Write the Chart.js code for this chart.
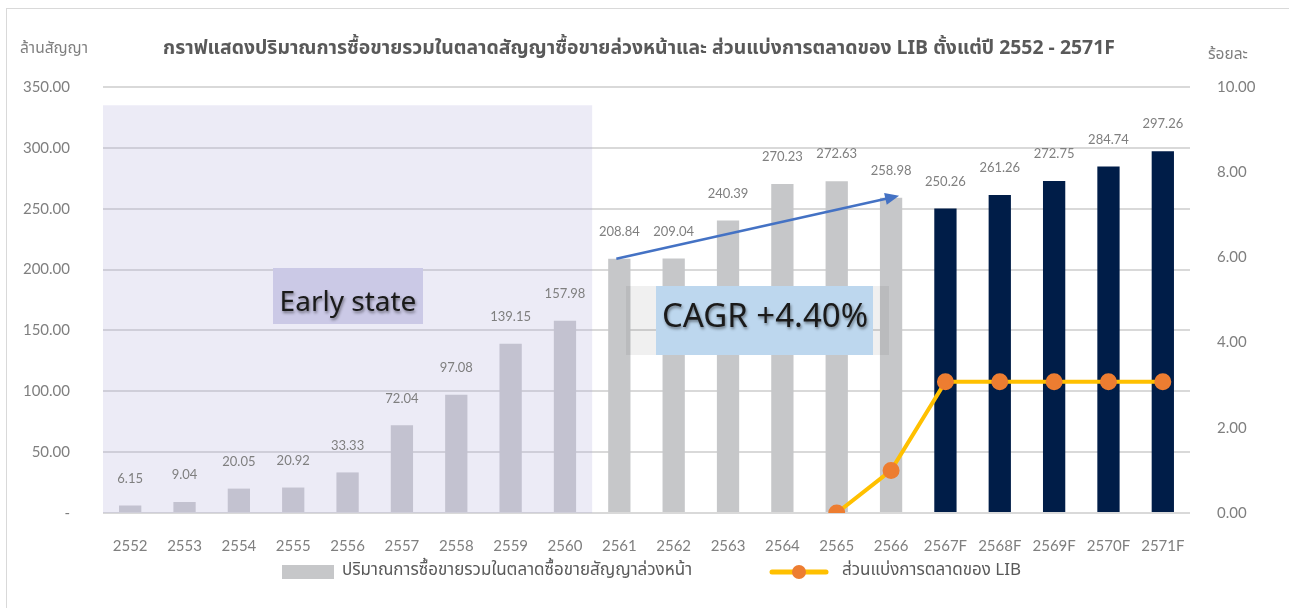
<!DOCTYPE html>
<html>
<head>
<meta charset="utf-8">
<script src="https://cdn.jsdelivr.net/npm/chart.js@4.4.1/dist/chart.umd.min.js"></script>
<style>
  html, body { margin: 0; padding: 0; background: #fff; }
  #wrap { position: relative; width: 1289px; height: 608px; }
  #frame { position: absolute; left: 6px; top: 8px; width: 1300px; height: 620px; border: 1px solid #d9d9d9; box-sizing: border-box; pointer-events: none; }
</style>
</head>
<body>
<div id="wrap">
  <canvas id="chart" width="1289" height="608"></canvas>
  <div id="frame"></div>
</div>
<script>
const years = ["2552", "2553", "2554", "2555", "2556", "2557", "2558", "2559", "2560", "2561",
  "2562", "2563", "2564", "2565", "2566", "2567F", "2568F", "2569F", "2570F", "2571F"];
const volume = [6.15, 9.04, 20.05, 20.92, 33.33, 72.04, 97.08, 139.15, 157.98, 208.84,
  209.04, 240.39, 270.23, 272.63, 258.98, 250.26, 261.26, 272.75, 284.74, 297.26];
const libShare = [null, null, null, null, null, null, null, null, null, null,
  null, null, null, 0, 1.0, 3.08, 3.08, 3.08, 3.08, 3.08];
const leftTicks = [0, 50, 100, 150, 200, 250, 300, 350];
const rightTicks = [0, 2, 4, 6, 8, 10];

const titleText = "กราฟแสดงปริมาณการซื้อขายรวมในตลาดสัญญาซื้อขายล่วงหน้าและ ส่วนแบ่งการตลาดของ LIB ตั้งแต่ปี 2552 - 2571F";
const leftUnit = "ล้านสัญญา";
const rightUnit = "ร้อยละ";
const barLabel = "ปริมาณการซื้อขายรวมในตลาดซื้อขายสัญญาล่วงหน้า";
const lineLabel = "ส่วนแบ่งการตลาดของ LIB";

const thaiFont = "'Noto Sans Thai', 'Leelawadee UI', Tahoma, 'Noto Sans', sans-serif";
const numFont = "Lato, 'Noto Sans', sans-serif";

const barColors = years.map((y, i) => i < 9 ? "#c3c2d0" : (i < 15 ? "#c6c7c9" : "#001d48"));

const extras = {
  id: "extras",
  beforeDatasetsDraw(chart) {
    const { ctx, scales: { x, y } } = chart;
    const step = x.getPixelForValue(1) - x.getPixelForValue(0);
    const x0 = x.getPixelForValue(0) - step / 2;
    const x1 = x.getPixelForValue(8) + step / 2;
    const top = y.getPixelForValue(335);
    ctx.save();
    ctx.fillStyle = "rgba(180,175,220,0.25)";
    ctx.fillRect(x0, top, x1 - x0, y.bottom - top);
    ctx.restore();
  },
  afterDatasetsDraw(chart) {
    const { ctx } = chart;
    const bars = chart.getDatasetMeta(1).data;
    ctx.save();
    // value labels
    ctx.font = "13px " + numFont;
    ctx.fillStyle = "#7f7f7f";
    ctx.textAlign = "center";
    ctx.textBaseline = "middle";
    bars.forEach((b, i) => {
      ctx.fillText(volume[i].toFixed(2), b.x, b.y - 27);
    });

    // Early state box
    ctx.fillStyle = "#cbc9e6";
    ctx.fillRect(273, 268, 150, 56);
    ctx.shadowColor = "rgba(0,0,0,0.45)";
    ctx.shadowBlur = 3;
    ctx.shadowOffsetX = 1;
    ctx.shadowOffsetY = 2;
    ctx.fillStyle = "#1a1a1a";
    ctx.font = "28px 'Noto Sans', sans-serif";
    ctx.fillText("Early state", 348, 303);
    ctx.shadowColor = "transparent";

    // CAGR box
    ctx.fillStyle = "rgba(0,0,0,0.06)";
    ctx.fillRect(626, 286, 263, 69);
    ctx.fillStyle = "#bdd7ee";
    ctx.fillRect(656, 286, 217, 69);
    ctx.shadowColor = "rgba(0,0,0,0.45)";
    ctx.shadowBlur = 3;
    ctx.shadowOffsetX = 1;
    ctx.shadowOffsetY = 2;
    ctx.fillStyle = "#1a1a1a";
    ctx.font = "33px 'Noto Sans', sans-serif";
    ctx.fillText("CAGR +4.40%", 765, 318);
    ctx.shadowColor = "transparent";

    // growth arrow from 2561 to 2566
    const ax0 = bars[9].x - 3, ay0 = bars[9].y;
    const ax1 = bars[14].x + 8, ay1 = bars[14].y - 2;
    const ang = Math.atan2(ay1 - ay0, ax1 - ax0);
    ctx.strokeStyle = "#4472c4";
    ctx.fillStyle = "#4472c4";
    ctx.lineWidth = 2.5;
    ctx.beginPath();
    ctx.moveTo(ax0, ay0);
    ctx.lineTo(ax1 - 10 * Math.cos(ang), ay1 - 10 * Math.sin(ang));
    ctx.stroke();
    ctx.beginPath();
    ctx.moveTo(ax1, ay1);
    ctx.lineTo(ax1 - 14 * Math.cos(ang) + 6 * Math.sin(ang), ay1 - 14 * Math.sin(ang) - 6 * Math.cos(ang));
    ctx.lineTo(ax1 - 14 * Math.cos(ang) - 6 * Math.sin(ang), ay1 - 14 * Math.sin(ang) + 6 * Math.cos(ang));
    ctx.closePath();
    ctx.fill();
    ctx.restore();
  },
  afterDraw(chart) {
    const { ctx } = chart;
    ctx.save();
    ctx.textBaseline = "middle";
    // title
    ctx.font = "bold 19.4px " + thaiFont;
    ctx.fillStyle = "#595959";
    ctx.textAlign = "center";
    ctx.fillText(titleText, 639, 50);
    // unit labels
    ctx.font = "15.5px " + thaiFont;
    ctx.fillStyle = "#7f7f7f";
    ctx.textAlign = "left";
    ctx.fillText(leftUnit, 20, 50);
    ctx.fillText(rightUnit, 1208, 56);
    // legend
    ctx.font = "17px " + thaiFont;
    ctx.fillStyle = "#c6c7c9";
    ctx.fillRect(282, 565, 52, 14);
    ctx.fillStyle = "#595959";
    ctx.fillText(barLabel, 342, 572);
    ctx.strokeStyle = "#ffc000";
    ctx.lineWidth = 5;
    ctx.lineCap = "round";
    ctx.beginPath();
    ctx.moveTo(772, 572);
    ctx.lineTo(826, 572);
    ctx.stroke();
    ctx.fillStyle = "#ed7d31";
    ctx.beginPath();
    ctx.arc(799, 572, 7, 0, Math.PI * 2);
    ctx.fill();
    ctx.fillStyle = "#595959";
    ctx.fillText(lineLabel, 842, 572);
    ctx.restore();
  }
};

new Chart(document.getElementById("chart"), {
  data: {
    labels: years,
    datasets: [
      {
        type: "line",
        label: lineLabel,
        data: libShare,
        yAxisID: "y1",
        borderColor: "#ffc000",
        borderWidth: 4,
        pointBackgroundColor: "#ed7d31",
        pointBorderColor: "#ed7d31",
        pointRadius: 6.5,
        tension: 0,
        order: 0,
      },
      {
        type: "bar",
        label: barLabel,
        data: volume,
        yAxisID: "y",
        backgroundColor: barColors,
        barPercentage: 0.41,
        categoryPercentage: 1,
        order: 1,
      },
    ],
  },
  options: {
    responsive: false,
    animation: false,
    events: [],
    layout: { padding: { top: 87, left: 0, right: 0, bottom: 0 } },
    plugins: {
      legend: { display: false },
      tooltip: { enabled: false },
      title: { display: false },
    },
    scales: {
      x: {
        grid: { display: false, drawTicks: false },
        border: { display: false },
        ticks: { color: "#7f7f7f", font: { family: numFont, size: 15 }, padding: 24, maxRotation: 0, autoSkip: false },
        afterFit: (s) => { s.height = 95; },
      },
      y: {
        position: "left",
        min: 0,
        max: 350,
        afterBuildTicks: (s) => { s.ticks = leftTicks.map((v) => ({ value: v })); },
        grid: { color: "#d9d9d9", lineWidth: 2, drawTicks: false },
        border: { display: false },
        ticks: {
          color: "#7f7f7f",
          font: { family: numFont, size: 15 },
          padding: 33,
          callback: (v) => (v === 0 ? "-" : v.toFixed(2)),
        },
        afterFit: (s) => { s.width = 103; },
      },
      y1: {
        position: "right",
        min: 0,
        max: 10,
        afterBuildTicks: (s) => { s.ticks = rightTicks.map((v) => ({ value: v })); },
        grid: { display: false, drawTicks: false },
        border: { display: false },
        ticks: {
          color: "#7f7f7f",
          font: { family: numFont, size: 15 },
          padding: 27,
          callback: (v) => v.toFixed(2),
        },
        afterFit: (s) => { s.width = 99; },
      },
    },
  },
  plugins: [extras],
});
</script>
</body>
</html>
